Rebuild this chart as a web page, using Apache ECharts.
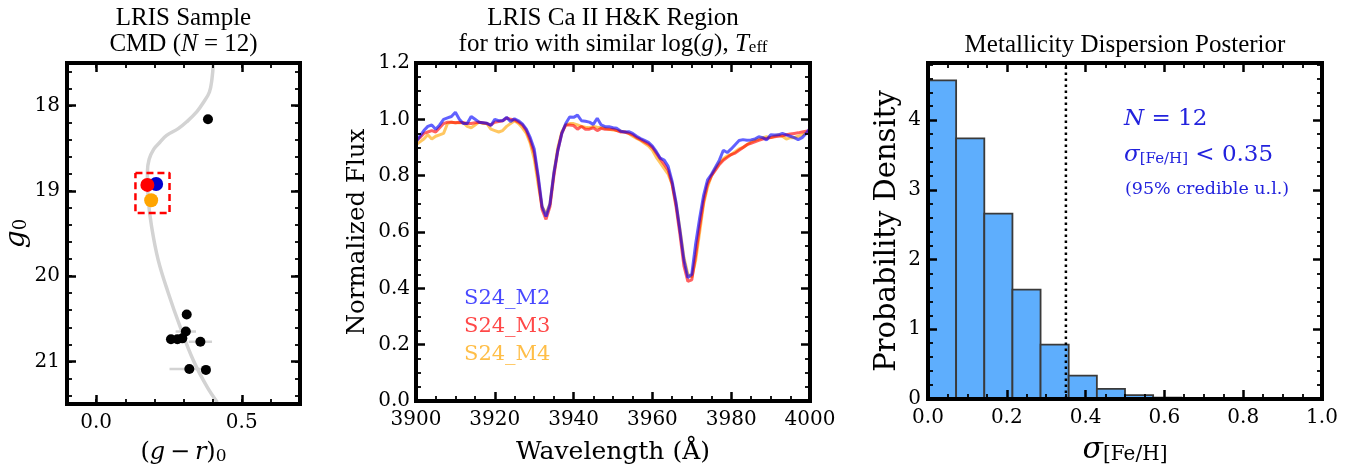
<!DOCTYPE html>
<html><head><meta charset="utf-8">
<script src="https://cdn.jsdelivr.net/npm/echarts@6/dist/echarts.min.js"></script>
<style>html,body{margin:0;padding:0;background:#fff}#c{width:1348px;height:470px}</style>
</head><body><div id="c"></div>
<script>
// ---------- Panel 1: CMD ----------
const isoColor = [0.402,0.398,0.389,0.369,0.346,0.311,0.282,0.242,0.219,0.198,0.182,0.176,0.179,0.190,0.213,0.248,0.288,0.334,0.381,0.416];
const isoMag   = [17.52,17.68,17.84,17.96,18.07,18.19,18.27,18.35,18.43,18.51,18.63,18.78,19.10,19.41,19.81,20.20,20.59,20.99,21.30,21.48];
const starColor = [0.384,0.311,0.308,0.257,0.279,0.296,0.358,0.320,0.377];
const starMag   = [18.16,20.45,20.65,20.74,20.74,20.73,20.77,21.09,21.10];
const starColorErr = [0.010,0.012,0.035,0.015,0.012,0.015,0.040,0.068,0.012];
const trioNames = ['S24_M2','S24_M3','S24_M4'];
const trioColor = [0.206,0.176,0.189];
const trioMag   = [18.92,18.93,19.11];
const boxColor = [0.135,0.252];
const boxMag   = [18.79,19.26];
const cmdXMajor = [0.0,0.5];
const cmdXMinor = [-0.1,0.0,0.1,0.2,0.3,0.4,0.5,0.6,0.7];
const cmdYMajor = [18,19,20,21];
const cmdYMinor = [17.6,17.8,18.0,18.2,18.4,18.6,18.8,19.0,19.2,19.4,19.6,19.8,20.0,20.2,20.4,20.6,20.8,21.0,21.2,21.4];

// ---------- Panel 2: spectra ----------
const wavelength = [3900,3901,3902,3903,3904,3905,3906,3907,3908,3909,3910,3911,3912,3913,3914,3915,3916,3917,3918,3919,
3920,3921,3922,3923,3924,3925,3926,3927,3928,3929,3930,3931,3932,3933,3934,3935,3936,3937,3938,3939,
3940,3941,3942,3943,3944,3945,3946,3947,3948,3949,3950,3951,3952,3953,3954,3955,3956,3957,3958,3959,
3960,3961,3962,3963,3964,3965,3966,3967,3968,3969,3970,3971,3972,3973,3974,3975,3976,3977,3978,3979,
3980,3981,3982,3983,3984,3985,3986,3987,3988,3989,3990,3991,3992,3993,3994,3995,3996,3997,3998,3999,4000];
const fluxM2 = [0.920,0.940,0.960,0.975,0.980,0.965,0.980,1.000,1.005,1.010,
1.025,1.000,0.985,0.985,1.010,1.000,0.990,0.988,0.986,0.978,
1.000,0.995,0.995,1.007,0.992,1.002,0.995,0.984,0.965,0.935,
0.895,0.800,0.690,0.655,0.700,0.810,0.890,0.950,0.985,1.008,
1.007,1.015,0.995,0.993,0.990,0.982,1.004,0.980,0.974,0.974,
0.970,0.968,0.958,0.955,0.956,0.950,0.940,0.932,0.925,0.918,
0.905,0.885,0.862,0.855,0.833,0.780,0.705,0.605,0.500,0.438,
0.450,0.560,0.650,0.730,0.785,0.805,0.830,0.855,0.890,0.882,
0.895,0.910,0.925,0.928,0.926,0.927,0.930,0.938,0.935,0.927,
0.945,0.944,0.945,0.950,0.945,0.940,0.935,0.928,0.935,0.950,0.968];
const fluxM3 = [0.925,0.935,0.950,0.955,0.960,0.955,0.970,0.985,0.990,0.990,
0.988,0.990,0.988,0.985,0.985,0.988,0.990,0.988,0.985,0.980,
0.990,0.992,0.995,1.005,1.000,0.998,0.990,0.980,0.960,0.925,
0.880,0.790,0.680,0.645,0.690,0.800,0.890,0.950,0.980,0.980,
0.978,0.965,0.975,0.965,0.965,0.970,0.960,0.968,0.965,0.965,
0.965,0.960,0.955,0.955,0.950,0.945,0.935,0.928,0.920,0.912,
0.900,0.880,0.860,0.840,0.820,0.770,0.690,0.590,0.480,0.425,
0.430,0.520,0.620,0.710,0.770,0.800,0.820,0.840,0.855,0.865,
0.875,0.880,0.890,0.900,0.910,0.915,0.920,0.925,0.930,0.932,
0.935,0.938,0.940,0.942,0.945,0.948,0.950,0.952,0.955,0.958,0.960];
const fluxM4 = [0.910,0.920,0.930,0.945,0.930,0.940,0.945,0.950,0.985,0.990,
0.988,0.988,0.988,0.975,0.970,0.980,0.990,0.985,0.985,0.965,
0.960,0.955,0.960,0.975,0.985,0.995,0.985,0.970,0.950,0.915,
0.860,0.770,0.690,0.665,0.700,0.810,0.900,0.955,0.980,0.985,
0.985,0.980,0.975,0.972,0.970,0.975,0.972,0.970,0.968,0.965,
0.962,0.960,0.958,0.955,0.950,0.940,0.932,0.925,0.915,0.905,
0.890,0.865,0.845,0.825,0.805,0.770,0.700,0.610,0.510,0.450,
0.440,0.500,0.600,0.700,0.760,0.800,0.825,0.845,0.860,0.870,
0.875,0.885,0.895,0.900,0.910,0.920,0.925,0.930,0.935,0.938,
0.935,0.940,0.945,0.940,0.930,0.935,0.935,0.940,0.945,0.950,0.955];
const specXMajor = [3900,3920,3940,3960,3980,4000];
const specXMinor = [3905,3910,3915,3925,3930,3935,3945,3950,3955,3965,3970,3975,3985,3990,3995];
const specYMajor = [0.0,0.2,0.4,0.6,0.8,1.0,1.2];
const specYMinor = [0.05,0.1,0.15,0.25,0.3,0.35,0.45,0.5,0.55,0.65,0.7,0.75,0.85,0.9,0.95,1.05,1.1,1.15];

// ---------- Panel 3: posterior histogram ----------
const binEdges = [0,0.0714,0.1429,0.2143,0.2857,0.3571,0.4286,0.5,0.5714,0.6429];
const density  = [4.57,3.74,2.66,1.57,0.78,0.335,0.146,0.057,0.02];
const upperLimit = 0.35;
const histXMajor = [0.0,0.2,0.4,0.6,0.8,1.0];
const histXMinor = [0.05,0.1,0.15,0.25,0.3,0.35,0.45,0.5,0.55,0.65,0.7,0.75,0.85,0.9,0.95];
const histYMajor = [0,1,2,3,4];
const histYMinor = [0.2,0.4,0.6,0.8,1.2,1.4,1.6,1.8,2.2,2.4,2.6,2.8,3.2,3.4,3.6,3.8,4.2,4.4,4.6,4.8];

const FONT = 'DejaVu Serif';
const TITLE_FONT = 'Times New Roman';

function makeAxes(kind, gi, cfg) {
  const posA = kind === 'x' ? 'bottom' : 'left';
  const posB = kind === 'x' ? 'top' : 'right';
  const base = {gridIndex: gi, type: 'value', min: cfg.min, max: cfg.max, inverse: !!cfg.inverse,
    splitLine: {show: false}, minorTick: {show: false}, z: 10};
  const major = (pos, labels) => Object.assign({}, base, {
    position: pos,
    axisLine: {show: true, onZero: false, lineStyle: {color: '#000', width: 4, cap: 'square'}},
    axisTick: {show: true, inside: true, length: 9, lineStyle: {color: '#000', width: 2.5}, customValues: cfg.major},
    axisLabel: {show: labels, customValues: cfg.major, formatter: v => Number(v).toFixed(cfg.dec),
      margin: cfg.margin, fontFamily: FONT, fontSize: cfg.fontSize, color: '#000'},
    name: labels ? cfg.name : '', nameLocation: 'middle', nameGap: cfg.nameGap, nameTextStyle: cfg.nameTextStyle
  });
  const minor = pos => Object.assign({}, base, {
    position: pos,
    axisLine: {show: false, onZero: false},
    axisTick: {show: true, inside: true, length: 5, lineStyle: {color: '#000', width: 1.8}, customValues: cfg.minor},
    axisLabel: {show: false}
  });
  return [major(posA, true), minor(posA), major(posB, false), minor(posB)];
}

function nameStyle(size, subSize) {
  return {fontFamily: FONT, fontSize: size, color: '#000',
    rich: {
      r: {fontFamily: FONT, fontSize: size, color: '#000'},
      i: {fontFamily: FONT, fontSize: size, fontStyle: 'italic', color: '#000'},
      s: {fontFamily: FONT, fontSize: subSize, color: '#000', verticalAlign: 'bottom', lineHeight: 12}
    }};
}

const grids = [
  {left: 67, top: 63, width: 233, height: 342},
  {left: 416, top: 63, width: 394, height: 340},
  {left: 928, top: 63, width: 394, height: 340}
];

const xAxes = [].concat(
  makeAxes('x', 0, {min: -0.1, max: 0.7, major: cmdXMajor, minor: cmdXMinor, dec: 1, margin: 9, fontSize: 20,
    name: '{r|(}{i|g}{r|\u2009−\u2009}{i|r}{r|)}{s|0}', nameGap: 37, nameTextStyle: nameStyle(24, 17)}),
  makeAxes('x', 1, {min: 3900, max: 4000, major: specXMajor, minor: specXMinor, dec: 0, margin: 9, fontSize: 20,
    name: 'Wavelength (Å)', nameGap: 39, nameTextStyle: nameStyle(25, 17)}),
  makeAxes('x', 2, {min: 0, max: 1, major: histXMajor, minor: histXMinor, dec: 1, margin: 9, fontSize: 20,
    name: '{i|σ}{s|[Fe/H]}', nameGap: 36, nameTextStyle: nameStyle(30, 20)})
);
const yAxes = [].concat(
  makeAxes('y', 0, {min: 17.5, max: 21.5, inverse: true, major: cmdYMajor, minor: cmdYMinor, dec: 0, margin: 7, fontSize: 20,
    name: '{i|g}{s|0}', nameGap: 36, nameTextStyle: nameStyle(28, 18)}),
  makeAxes('y', 1, {min: 0, max: 1.2, major: specYMajor, minor: specYMinor, dec: 1, margin: 6, fontSize: 20,
    name: 'Normalized Flux', nameGap: 46, nameTextStyle: nameStyle(24.5, 17)}),
  makeAxes('y', 2, {min: 0, max: 4.82, major: histYMajor, minor: histYMinor, dec: 0, margin: 7, fontSize: 20,
    name: 'Probability Density', nameGap: 26, nameTextStyle: nameStyle(29, 20)})
);

const zip = (a, b) => a.map((v, i) => [v, b[i]]);

const trioPointColors = ['#0000cd', '#ff0000', '#ffa500'];
const specColors = ['rgba(0,0,255,0.62)', 'rgba(255,0,0,0.62)', 'rgba(255,165,0,0.62)'];
const specTextColors = ['rgba(0,0,255,0.72)', 'rgba(255,0,0,0.72)', 'rgba(255,165,0,0.72)'];

const series = [
  {type: 'line', xAxisIndex: 0, yAxisIndex: 0, data: zip(isoColor, isoMag), smooth: 0.4, showSymbol: false,
    lineStyle: {color: '#d3d3d3', width: 3.5}, z: 1, silent: true, animation: false},
  {type: 'custom', xAxisIndex: 0, yAxisIndex: 0, z: 2, animation: false,
    data: starColor.map((c, i) => [c, starMag[i], starColorErr[i]]),
    renderItem: (params, api) => {
      const a = api.coord([api.value(0) - api.value(2), api.value(1)]);
      const b = api.coord([api.value(0) + api.value(2), api.value(1)]);
      return {type: 'line', shape: {x1: a[0], y1: a[1], x2: b[0], y2: b[1]}, style: {stroke: '#d3d3d3', lineWidth: 2.5}};
    }},
  {type: 'scatter', xAxisIndex: 0, yAxisIndex: 0, data: zip(starColor, starMag), symbolSize: 10,
    itemStyle: {color: '#000', opacity: 1}, z: 3, animation: false},
  {type: 'scatter', xAxisIndex: 0, yAxisIndex: 0, data: zip(trioColor, trioMag).map((d, i) => ({value: d, itemStyle: {color: trioPointColors[i], opacity: 1}})),
    symbolSize: 14, z: 4, animation: false},
  {type: 'line', xAxisIndex: 0, yAxisIndex: 0, showSymbol: false, z: 5, animation: false,
    data: [[boxColor[0], boxMag[0]], [boxColor[1], boxMag[0]], [boxColor[1], boxMag[1]], [boxColor[0], boxMag[1]], [boxColor[0], boxMag[0]]],
    lineStyle: {color: '#ff0000', width: 2.5, type: [7, 4]}},
  {type: 'line', xAxisIndex: 4, yAxisIndex: 4, data: zip(wavelength, fluxM4), showSymbol: false, animation: false,
    lineStyle: {color: specColors[2], width: 3}, z: 3},
  {type: 'line', xAxisIndex: 4, yAxisIndex: 4, data: zip(wavelength, fluxM3), showSymbol: false, animation: false,
    lineStyle: {color: specColors[1], width: 3}, z: 4},
  {type: 'line', xAxisIndex: 4, yAxisIndex: 4, data: zip(wavelength, fluxM2), showSymbol: false, animation: false,
    lineStyle: {color: specColors[0], width: 3}, z: 5},
  {type: 'custom', xAxisIndex: 8, yAxisIndex: 8, z: 3, animation: false,
    data: density.map((d, i) => [binEdges[i], binEdges[i + 1], d]),
    renderItem: (params, api) => {
      const p0 = api.coord([api.value(0), api.value(2)]);
      const p1 = api.coord([api.value(1), 0]);
      return {type: 'rect', shape: {x: p0[0], y: p0[1], width: p1[0] - p0[0], height: p1[1] - p0[1]},
        style: {fill: '#5eaefd', stroke: '#3a3a3a', lineWidth: 1.8}};
    }},
  {type: 'line', xAxisIndex: 8, yAxisIndex: 8, showSymbol: false, z: 6, animation: false,
    data: [[upperLimit, 0], [upperLimit, 4.82]],
    lineStyle: {color: '#000', width: 2.5, type: [2.5, 3.5]}}
];

function txt(x, y, text, size, rich, color, align, fam) {
  return {type: 'text', x: x, y: y, z: 100,
    style: {text: text, fontFamily: fam || FONT, fontSize: size, fill: color || '#000', align: align || 'center', verticalAlign: 'middle', rich: rich || {}}};
}
function richSet(size, sub, color, fam) {
  color = color || '#000';
  fam = fam || FONT;
  return {
    r: {fontFamily: fam, fontSize: size, fill: color, color: color},
    i: {fontFamily: fam, fontSize: size, fontStyle: 'italic', fill: color, color: color},
    s: {fontFamily: fam, fontSize: sub, fill: color, color: color, verticalAlign: 'bottom', lineHeight: 10}
  };
}

const blueText = '#2222dd';
const graphic = [
  txt(183.5, 18, 'LRIS Sample', 25, null, null, null, TITLE_FONT),
  txt(183.5, 44, '{r|CMD (}{i|N}{r| = 12)}', 25, richSet(25, 17, '#000', TITLE_FONT), null, null, TITLE_FONT),
  txt(613, 18, 'LRIS Ca II H&K Region', 25, null, null, null, TITLE_FONT),
  txt(613, 44, '{r|for trio with similar log(}{i|g}{r|), }{i|T}{s|eff}', 25, richSet(25, 17, '#000', TITLE_FONT), null, null, TITLE_FONT),
  txt(1125, 45, 'Metallicity Dispersion Posterior', 25, null, null, null, TITLE_FONT),
  txt(464, 299, trioNames[0], 21, null, specTextColors[0], 'left'),
  txt(464, 327, trioNames[1], 21, null, specTextColors[1], 'left'),
  txt(464, 355, trioNames[2], 21, null, specTextColors[2], 'left'),
  txt(1124, 119, '{i|N}{r| = 12}', 23, richSet(23, 15, blueText), blueText, 'left'),
  txt(1124, 155, '{i|σ}{s|[Fe/H]}{r| < 0.35}', 23, richSet(23, 15, blueText), blueText, 'left'),
  txt(1125, 189, '(95% credible u.l.)', 17.5, null, blueText, 'left')
];

const chart = echarts.init(document.getElementById('c'), null, {renderer: 'canvas'});
chart.setOption({
  animation: false,
  backgroundColor: '#fff',
  grid: grids,
  xAxis: xAxes,
  yAxis: yAxes,
  series: series,
  graphic: graphic
});
</script></body></html>
